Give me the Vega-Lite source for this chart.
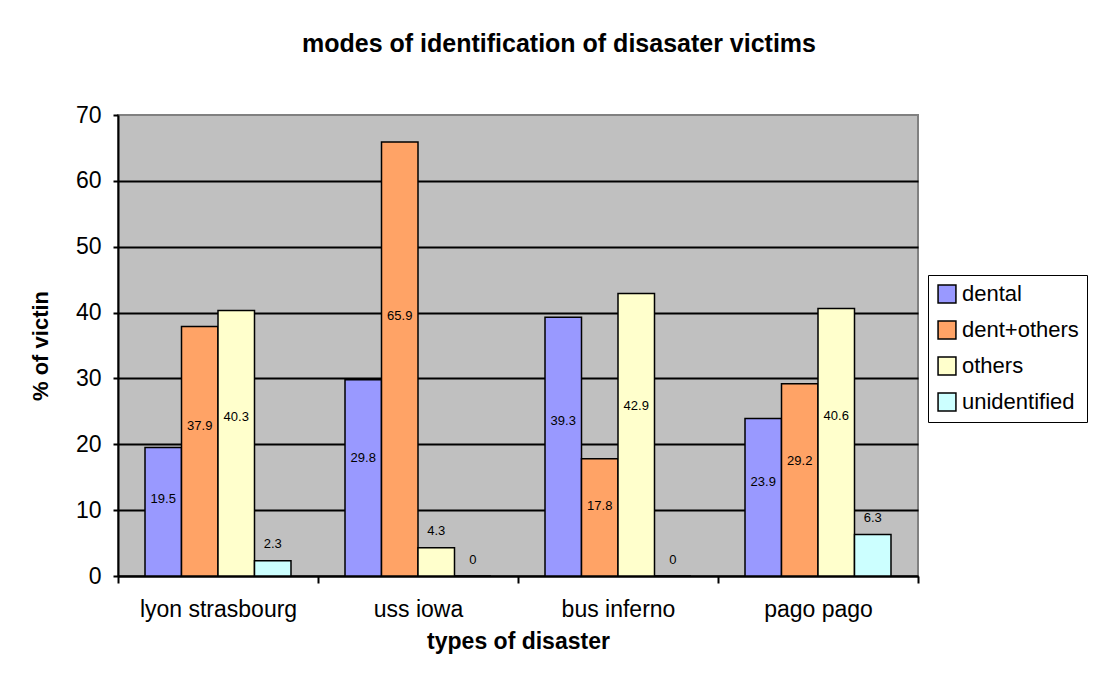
{
  "$schema": "https://vega.github.io/schema/vega-lite/v6.json",
  "width": 800,
  "height": 461,
  "autosize": {"type": "none"},
  "padding": {"left": 118, "top": 115, "right": 178, "bottom": 111},
  "background": "white",
  "title": {
    "text": "modes of identification of disasater victims",
    "font": "Liberation Sans",
    "fontSize": 25,
    "fontWeight": "bold",
    "color": "black",
    "anchor": "middle",
    "dx": 41,
    "offset": 47
  },
  "data": {
    "values": [
      {"disaster": "lyon strasbourg", "mode": "dental", "value": 19.5},
      {"disaster": "lyon strasbourg", "mode": "dent+others", "value": 37.9},
      {"disaster": "lyon strasbourg", "mode": "others", "value": 40.3},
      {"disaster": "lyon strasbourg", "mode": "unidentified", "value": 2.3},
      {"disaster": "uss iowa", "mode": "dental", "value": 29.8},
      {"disaster": "uss iowa", "mode": "dent+others", "value": 65.9},
      {"disaster": "uss iowa", "mode": "others", "value": 4.3},
      {"disaster": "uss iowa", "mode": "unidentified", "value": 0},
      {"disaster": "bus inferno", "mode": "dental", "value": 39.3},
      {"disaster": "bus inferno", "mode": "dent+others", "value": 17.8},
      {"disaster": "bus inferno", "mode": "others", "value": 42.9},
      {"disaster": "bus inferno", "mode": "unidentified", "value": 0},
      {"disaster": "pago pago", "mode": "dental", "value": 23.9},
      {"disaster": "pago pago", "mode": "dent+others", "value": 29.2},
      {"disaster": "pago pago", "mode": "others", "value": 40.6},
      {"disaster": "pago pago", "mode": "unidentified", "value": 6.3}
    ]
  },
  "encoding": {
    "x": {
      "field": "disaster",
      "type": "nominal",
      "sort": ["lyon strasbourg", "uss iowa", "bus inferno", "pago pago"],
      "scale": {"paddingInner": 0, "paddingOuter": 0},
      "axis": {
        "labelAngle": 0,
        "tickBand": "extent",
        "domainColor": "black",
        "domainWidth": 2,
        "tickColor": "black",
        "tickWidth": 2,
        "tickSize": 7,
        "labelFont": "Liberation Sans",
        "labelFontSize": 23,
        "labelColor": "black",
        "labelPadding": 15,
        "title": "types of disaster",
        "titleFont": "Liberation Sans",
        "titleFontSize": 23,
        "titleFontWeight": "bold",
        "titleColor": "black",
        "titlePadding": 9
      }
    },
    "xOffset": {
      "field": "mode",
      "type": "nominal",
      "sort": ["dental", "dent+others", "others", "unidentified"],
      "scale": {"paddingInner": 0, "paddingOuter": 0.74}
    },
    "y": {
      "field": "value",
      "type": "quantitative",
      "scale": {"domain": [0, 70], "nice": false},
      "axis": {
        "values": [0, 10, 20, 30, 40, 50, 60, 70],
        "grid": true,
        "gridColor": {"condition": {"test": "datum.value == 70", "value": "transparent"}, "value": "black"},
        "gridWidth": 2,
        "domainColor": "black",
        "domainWidth": 2,
        "tickColor": "black",
        "tickWidth": 2,
        "tickSize": 5,
        "labelFont": "Liberation Sans",
        "labelFontSize": 23,
        "labelColor": "black",
        "labelPadding": 12,
        "title": "% of victin",
        "titleFont": "Liberation Sans",
        "titleFontSize": 22,
        "titleFontWeight": "bold",
        "titleColor": "black",
        "titlePadding": 23
      }
    }
  },
  "layer": [
    {
      "mark": {"type": "bar", "stroke": "black", "strokeWidth": 1.5},
      "encoding": {
        "color": {
          "field": "mode",
          "type": "nominal",
          "sort": ["dental", "dent+others", "others", "unidentified"],
          "scale": {
            "domain": ["dental", "dent+others", "others", "unidentified"],
            "range": ["#9999FF", "#FFA366", "#FFFFCC", "#CCFFFF"]
          },
          "legend": {
            "title": null,
            "orient": "none",
            "legendX": 810,
            "legendY": 160,
            "strokeColor": "black",
            "fillColor": "white",
            "padding": 8,
            "symbolType": "square",
            "symbolSize": 320,
            "symbolStrokeColor": "black",
            "symbolStrokeWidth": 1.5,
            "symbolOpacity": 1,
            "labelFont": "Liberation Sans",
            "labelFontSize": 22,
            "labelColor": "black",
            "labelOffset": 4,
            "rowPadding": 12
          }
        }
      }
    },
    {
      "transform": [
        {"calculate": "datum.value < 10 ? datum.value + 2.5 : datum.value * 0.6", "as": "labelPos"}
      ],
      "mark": {"type": "text", "font": "Liberation Sans", "fontSize": 13, "color": "black", "baseline": "middle"},
      "encoding": {
        "y": {"field": "labelPos", "type": "quantitative"},
        "text": {"field": "value", "type": "quantitative"}
      }
    }
  ],
  "config": {
    "view": {"fill": "#C0C0C0", "stroke": "#808080", "strokeWidth": 2}
  }
}
